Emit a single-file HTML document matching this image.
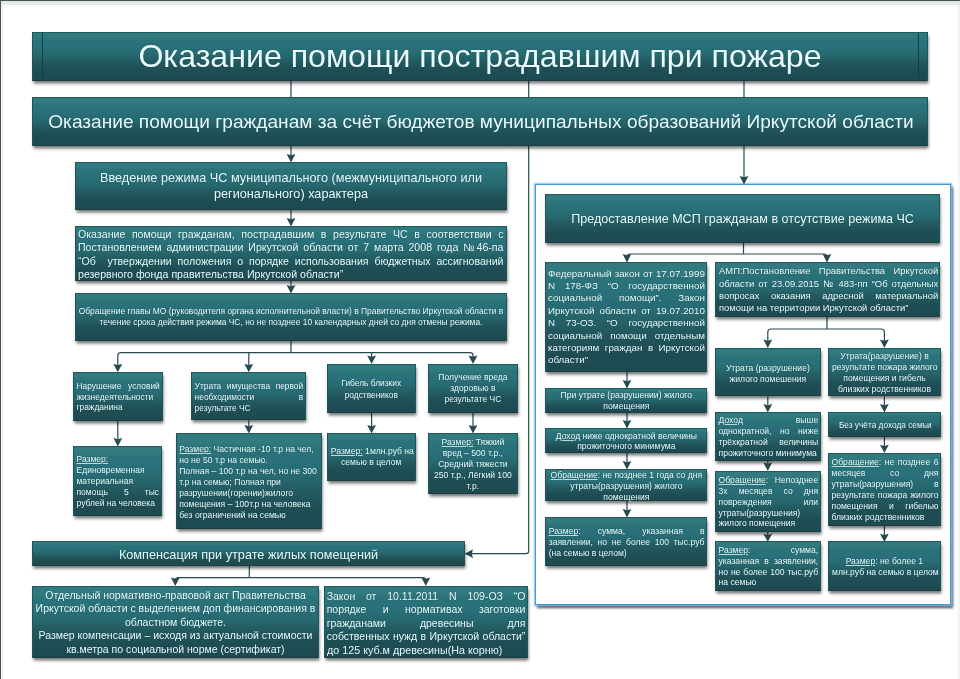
<!DOCTYPE html>
<html lang="ru"><head><meta charset="utf-8"><title>Оказание помощи пострадавшим при пожаре</title>
<style>
html,body{margin:0;padding:0;background:#fff}
#w{position:absolute;left:0;top:0;width:960px;height:679px;filter:blur(0.4px)}
body{width:960px;height:679px;position:relative;overflow:hidden;background:#fff;
 font-family:"Liberation Sans",sans-serif;color:#e9fdff}
.frame{position:absolute;left:0;top:0;width:960px;height:679px;box-sizing:border-box;
 border-left:1px solid #4b5855;border-top:1px solid #46534f;
 box-shadow:inset 0 6px 2px -2px #e1e7e4, inset 3px 0 2px -1px #eef2f0, inset -3px 0 2px -1px #f1f3f2}
.b{position:absolute;box-sizing:border-box;border:1px solid #1d555b;border-bottom-color:#193f44;border-top-color:#1f5a60;
 background:linear-gradient(180deg,#327a80 0%,#317a80 9%,#2b7379 15%,#29707a 30%,#276970 46%,#22595f 63%,#1e4e54 80%,#1d4a50 100%);
 box-shadow:0.5px 2.5px 3px rgba(0,0,0,.55)}
.t{position:absolute;transform-origin:0 0;white-space:nowrap;text-shadow:0 0 1px rgba(0,40,45,.5)}
.t div{display:block}
.c{text-align:center}
.l{text-align:left}
.j{text-align:justify;text-align-last:justify}
u{text-decoration-thickness:0.6px;text-underline-offset:1px;text-decoration-color:rgba(233,253,255,.8)}
.panel{position:absolute;left:534.8px;top:184px;width:416.7px;height:421.2px;box-sizing:border-box;
 border:1.6px solid #3f9bd9;background:#fff;box-shadow:0 0 1.5px 0.6px #86c3ec, 2.2px 2.8px 2.5px rgba(0,0,0,.7)}
svg{position:absolute;left:0;top:0}
svg path{fill:none;stroke:#264a4e;stroke-width:1.2}
svg polygon{fill:#264a4e;stroke:none}
.vl{position:absolute;top:0;bottom:0;width:1.4px;background:#0f4046}
</style></head><body>
<div class="frame"></div>
<div id="w">
<div class="panel"></div>
<svg width="960" height="679" viewBox="0 0 960 679"><path d="M291 81V158"/><polygon points="286.6,154 291,155.2 295.4,154 291,162.4"/><path d="M291 210V222"/><polygon points="286.6,218 291,219.2 295.4,218 291,226.4"/><path d="M291 281V289"/><polygon points="286.6,285 291,286.2 295.4,285 291,293.4"/><path d="M291 341V352.7"/><path d="M291 352.7H120.8Q117.8 352.7 117.8 355.7V367.9"/><polygon points="113.4,363.9 117.8,365.1 122.2,363.9 117.8,372.3"/><path d="M248.8 352.7V367.9"/><polygon points="244.4,363.9 248.8,365.1 253.2,363.9 248.8,372.3"/><path d="M371.6 352.7V359.5"/><polygon points="367.2,355.5 371.6,356.7 376.0,355.5 371.6,363.9"/><path d="M291 352.7H470Q473 352.7 473 355.7V359.5"/><polygon points="468.6,355.5 473,356.7 477.4,355.5 473,363.9"/><path d="M117.8 420.6V442"/><polygon points="113.4,438 117.8,439.2 122.2,438 117.8,446.4"/><path d="M248.8 420.5V429"/><polygon points="244.4,425 248.8,426.2 253.2,425 248.8,433.4"/><path d="M371.6 413V429"/><polygon points="367.2,425 371.6,426.2 376.0,425 371.6,433.4"/><path d="M473 413V429"/><polygon points="468.6,425 473,426.2 477.4,425 473,433.4"/><path d="M528.7 81V551Q528.7 553.7 526 553.7H470"/><polygon points="473,549.3 471.8,553.7 473,558.1 464.6,553.7"/><path d="M744 81V180"/><polygon points="739.6,176 744,177.2 748.4,176 744,184.4"/><path d="M249.3 566V577.7"/><path d="M249.3 577.7H178.3Q175.3 577.7 175.3 580.7V581.6"/><polygon points="170.9,577.6 175.3,578.8 179.7,577.6 175.3,586.0"/><path d="M249.3 577.7H422.8Q425.8 577.7 425.8 580.7V581.6"/><polygon points="421.4,577.6 425.8,578.8 430.2,577.6 425.8,586.0"/><path d="M743.5 242.5V254"/><path d="M743.5 254H630Q627 254 627 257V258"/><polygon points="622.6,254 627,255.2 631.4,254 627,262.4"/><path d="M743.5 254H824Q827 254 827 257V258"/><polygon points="822.6,254 827,255.2 831.4,254 827,262.4"/><path d="M627 372V384"/><polygon points="622.6,380 627,381.2 631.4,380 627,388.4"/><path d="M627 412.5V424"/><polygon points="622.6,420 627,421.2 631.4,420 627,428.4"/><path d="M627 453V465"/><polygon points="622.6,461 627,462.2 631.4,461 627,469.4"/><path d="M627 501V513"/><polygon points="622.6,509 627,510.2 631.4,509 627,517.4"/><path d="M827 316V329"/><path d="M827 329H770.8Q767.8 329 767.8 332V343.6"/><polygon points="763.4,339.6 767.8,340.8 772.2,339.6 767.8,348.0"/><path d="M827 329H881.4Q884.4 329 884.4 332V343.6"/><polygon points="880.0,339.6 884.4,340.8 888.8,339.6 884.4,348.0"/><path d="M767.8 396.4V408"/><polygon points="763.4,404 767.8,405.2 772.2,404 767.8,412.4"/><path d="M767.8 461V466.6"/><polygon points="763.4,462.6 767.8,463.8 772.2,462.6 767.8,471.0"/><path d="M767.8 532V537.7"/><polygon points="763.4,533.7 767.8,534.9 772.2,533.7 767.8,542.1"/><path d="M884.4 396.4V408"/><polygon points="880.0,404 884.4,405.2 888.8,404 884.4,412.4"/><path d="M884.4 436.6V448.7"/><polygon points="880.0,444.7 884.4,445.9 888.8,444.7 884.4,453.1"/><path d="M884.4 526V537.7"/><polygon points="880.0,533.7 884.4,534.9 888.8,533.7 884.4,542.1"/></svg>
<div class="b title" style="left:32px;top:32px;width:896.0px;height:49.0px">
<i class="vl" style="left:9px"></i><i class="vl" style="left:885px"></i>
<div class="t" style="left:9.0px;top:4.41px;width:872.5px;font-size:32px;line-height:38px;transform:scaleX(1.004)">
<div class="c">Оказание помощи пострадавшим при пожаре</div>
</div></div>
<div class="b " style="left:32px;top:97px;width:896.0px;height:49.0px">
<div class="t" style="left:5.5px;top:11.78px;width:883.1px;font-size:19.1px;line-height:24px;transform:scaleX(1.001)">
<div class="c">Оказание помощи гражданам за счёт бюджетов муниципальных образований Иркутской области</div>
</div></div>
<div class="b " style="left:75px;top:161.7px;width:432.0px;height:48.7px">
<div class="t" style="left:3.0px;top:7.02px;width:424.0px;font-size:12.7px;line-height:16.75px;transform:scaleX(1.0)">
<div class="c">Введение режима ЧС муниципального (межмуниципального или</div>
<div class="c">регионального) характера</div>
</div></div>
<div class="b " style="left:75px;top:225.8px;width:432.0px;height:55.2px">
<div class="t" style="left:2.0px;top:0.75px;width:425.5px;font-size:10.6px;line-height:13.55px;transform:scaleX(1.0)">
<div class="j">Оказание помощи гражданам, пострадавшим в результате ЧС в соответствии с</div>
<div class="j">Постановлением администрации Иркутской области от 7 марта 2008 года №46-па</div>
<div class="j">“Об&nbsp; утверждении положения о порядке использования бюджетных ассигнований</div>
<div class="l">резервного фонда правительства Иркутской области”</div>
</div></div>
<div class="b " style="left:75px;top:293px;width:432.0px;height:48.0px">
<div class="t" style="left:2.0px;top:11.95px;width:426.0px;font-size:8.45px;line-height:11.25px;transform:scaleX(1.0)">
<div class="c">Обращение главы МО (руководителя органа исполнительной власти) в Правительство Иркутской области в</div>
<div class="c">течение срока действия режима ЧС, но не позднее 10 календарных дней со дня отмены режима.</div>
</div></div>
<div class="b " style="left:73px;top:371.9px;width:89.5px;height:48.7px">
<div class="t" style="left:2.5px;top:7.74px;width:83.3px;font-size:8.4px;line-height:10.9px;transform:scaleX(1.0)">
<div class="j">Нарушение условий</div>
<div class="j">жизнедеятельности</div>
<div class="l">гражданина</div>
</div></div>
<div class="b " style="left:191.3px;top:371.8px;width:114.5px;height:48.6px">
<div class="t" style="left:2.3px;top:8.44px;width:108.6px;font-size:8.4px;line-height:10.9px;transform:scaleX(1.0)">
<div class="j">Утрата имущества первой</div>
<div class="j">необходимости в</div>
<div class="l">результате ЧС</div>
</div></div>
<div class="b " style="left:326.8px;top:363.6px;width:88.9px;height:49.1px">
<div class="t" style="left:3.0px;top:13.74px;width:80.9px;font-size:8.4px;line-height:11.3px;transform:scaleX(1.0)">
<div class="c">Гибель близких</div>
<div class="c">родствеников</div>
</div></div>
<div class="b " style="left:428.2px;top:363.6px;width:89.4px;height:49.1px">
<div class="t" style="left:3.0px;top:7.75px;width:81.4px;font-size:8.5px;line-height:10.9px;transform:scaleX(1.0)">
<div class="c">Получение вреда</div>
<div class="c">здоровью в</div>
<div class="c">результате ЧС</div>
</div></div>
<div class="b " style="left:73px;top:446px;width:89.0px;height:70.0px">
<div class="t" style="left:2.5px;top:6.95px;width:82.5px;font-size:8.5px;line-height:11px;transform:scaleX(1.0)">
<div class="l"><u>Размер:</u></div>
<div class="l">Единовременная</div>
<div class="l">материальная</div>
<div class="j">помощь 5 тыс</div>
<div class="l">рублей на человека</div>
</div></div>
<div class="b " style="left:175.7px;top:432.8px;width:146.1px;height:96.7px">
<div class="t" style="left:2.5px;top:10.05px;width:139.6px;font-size:8.6px;line-height:10.95px;transform:scaleX(1.0)">
<div class="l"><u>Размер:</u> Частичная -10 т.р на чел,</div>
<div class="l">но не 50 т.р на семью.</div>
<div class="l">Полная – 100 т.р на чел, но не 300</div>
<div class="l">т.р на семью; Полная при</div>
<div class="l">разрушении(горении)жилого</div>
<div class="l">помещения – 100т.р на человека</div>
<div class="l">без ограничений на семью</div>
</div></div>
<div class="b " style="left:326.8px;top:432.6px;width:88.9px;height:48.3px">
<div class="t" style="left:3.0px;top:12.67px;width:80.9px;font-size:8.6px;line-height:10.5px;transform:scaleX(1.0)">
<div class="c"><u>Размер:</u> 1млн.руб на</div>
<div class="c">семью в целом</div>
</div></div>
<div class="b " style="left:428.2px;top:432.5px;width:89.4px;height:61.3px">
<div class="t" style="left:3.0px;top:3.42px;width:81.4px;font-size:8.6px;line-height:11.0px;transform:scaleX(1.0)">
<div class="c"><u>Размер:</u> Тяжкий</div>
<div class="c">вред – 500 т.р.,</div>
<div class="c">Средний тяжести</div>
<div class="c">250 т.р., Лёгкий 100</div>
<div class="c">т.р.</div>
</div></div>
<div class="b " style="left:32px;top:541.2px;width:433.0px;height:25.1px">
<div class="t" style="left:3.0px;top:4.60px;width:425.0px;font-size:12.7px;line-height:16px;transform:scaleX(1.0)">
<div class="c">Компенсация при утрате жилых помещений</div>
</div></div>
<div class="b " style="left:32px;top:586px;width:287.0px;height:72.4px">
<div class="t" style="left:1.0px;top:1.79px;width:283.0px;font-size:10.5px;line-height:13.55px;transform:scaleX(1.0)">
<div class="c">Отдельный нормативно-правовой акт Правительства</div>
<div class="c">Иркутской области с выделением доп финансирования в</div>
<div class="c">областном бюджете.</div>
<div class="c">Размер компенсации – исходя из актуальной стоимости</div>
<div class="c">кв.метра по социальной норме (сертификат)</div>
</div></div>
<div class="b " style="left:323.7px;top:586px;width:204.7px;height:72.4px">
<div class="t" style="left:2.0px;top:2.51px;width:198.7px;font-size:10.5px;line-height:13.5px;transform:scaleX(1.0)">
<div class="j">Закон от 10.11.2011 N 109-ОЗ “О</div>
<div class="j">порядке и нормативах заготовки</div>
<div class="j">гражданами древесины для</div>
<div class="j">собственных нужд в Иркутской области”</div>
<div class="l"><span style="display:inline-block;transform:scaleX(1.023);transform-origin:0 0">до 125 куб.м древесины(На корню)</span></div>
</div></div>
<div class="b " style="left:545.2px;top:194px;width:394.8px;height:48.5px">
<div class="t" style="left:3.0px;top:15.85px;width:386.8px;font-size:12.55px;line-height:16px;transform:scaleX(1.0)">
<div class="c">Предоставление МСП гражданам в отсутствие режима ЧС</div>
</div></div>
<div class="b " style="left:545.2px;top:262px;width:162.3px;height:110.0px">
<div class="t" style="left:2.3px;top:4.54px;width:150.2px;font-size:9.4px;line-height:12.4px;transform:scaleX(1.045)">
<div class="j">Федеральный закон от 17.07.1999</div>
<div class="j">N 178-ФЗ “О государственной</div>
<div class="j">социальной помощи”. Закон</div>
<div class="j">Иркутской области от 19.07.2010</div>
<div class="j">N 73-ОЗ. “О государственной</div>
<div class="j">социальной помощи отдельным</div>
<div class="j">категориям граждан в Иркутской</div>
<div class="l">области”</div>
</div></div>
<div class="b " style="left:715px;top:262px;width:225.0px;height:54.7px">
<div class="t" style="left:2.5px;top:2.18px;width:218.1px;font-size:9.4px;line-height:12.33px;transform:scaleX(1.005)">
<div class="j">АМП:Постановление Правительства Иркутской</div>
<div class="j">области от 23.09.2015 № 483-пп “Об отдельных</div>
<div class="j">вопросах оказания адресной материальной</div>
<div class="l">помощи на территории Иркутской области”</div>
</div></div>
<div class="b " style="left:545.2px;top:388px;width:162.3px;height:24.5px">
<div class="t" style="left:3.0px;top:0.80px;width:154.3px;font-size:8.6px;line-height:11.25px;transform:scaleX(1.0)">
<div class="c">При утрате (разрушении) жилого</div>
<div class="c">помещения</div>
</div></div>
<div class="b " style="left:545.2px;top:428px;width:162.3px;height:25.0px">
<div class="t" style="left:3.0px;top:1.52px;width:154.3px;font-size:8.6px;line-height:10.5px;transform:scaleX(1.0)">
<div class="c"><u>Доход</u> ниже однократной величины</div>
<div class="c">прожиточного минимума</div>
</div></div>
<div class="b " style="left:545.2px;top:469px;width:162.3px;height:32.0px">
<div class="t" style="left:3.0px;top:-0.13px;width:154.3px;font-size:8.6px;line-height:10.9px;transform:scaleX(1.0)">
<div class="c"><u>Обращение</u>: не позднее 1 года со дня</div>
<div class="c">утраты(разрушения) жилого</div>
<div class="c">помещения</div>
</div></div>
<div class="b " style="left:545.2px;top:517px;width:162.3px;height:49.0px">
<div class="t" style="left:2.5px;top:8.32px;width:155.8px;font-size:8.6px;line-height:11.0px;transform:scaleX(1.0)">
<div class="j"><u>Размер</u>: сумма, указанная в</div>
<div class="j">заявлении, но не более 100 тыс.руб</div>
<div class="l">(на семью в целом)</div>
</div></div>
<div class="b " style="left:715px;top:347.8px;width:105.7px;height:48.4px">
<div class="t" style="left:3.0px;top:13.77px;width:97.7px;font-size:8.6px;line-height:11.1px;transform:scaleX(1.0)">
<div class="c">Утрата (разрушение)</div>
<div class="c">жилого помешения</div>
</div></div>
<div class="b " style="left:828px;top:347.8px;width:113.0px;height:48.4px">
<div class="t" style="left:3.0px;top:2.00px;width:105.0px;font-size:8.6px;line-height:11.05px;transform:scaleX(1.0)">
<div class="c">Утрата(разрушение) в</div>
<div class="c">результате пожара жилого</div>
<div class="c">помещения и гибель</div>
<div class="c">близких родственников</div>
</div></div>
<div class="b " style="left:715px;top:412px;width:105.7px;height:49.0px">
<div class="t" style="left:2.5px;top:1.97px;width:99.7px;font-size:8.6px;line-height:11.1px;transform:scaleX(1.0)">
<div class="j"><u>Доход</u> выше</div>
<div class="j">однократной, но ниже</div>
<div class="j">трёхкратной величины</div>
<div class="l">прожиточного минимума</div>
</div></div>
<div class="b " style="left:828px;top:412px;width:113.0px;height:24.6px">
<div class="t" style="left:4.0px;top:6.72px;width:108.3px;font-size:8.6px;line-height:11px;transform:scaleX(0.965)">
<div class="c">Без учёта дохода семьи</div>
</div></div>
<div class="b " style="left:715px;top:470.6px;width:105.7px;height:61.4px">
<div class="t" style="left:2.5px;top:3.40px;width:99.7px;font-size:8.6px;line-height:10.85px;transform:scaleX(1.0)">
<div class="j"><u>Обращение</u>: Непозднее</div>
<div class="j">3х месяцев со дня</div>
<div class="j">повреждения или</div>
<div class="l">утраты(разрушения)</div>
<div class="l">жилого помещения</div>
</div></div>
<div class="b " style="left:828px;top:452.7px;width:113.0px;height:73.3px">
<div class="t" style="left:2.5px;top:3.70px;width:107.0px;font-size:8.6px;line-height:10.85px;transform:scaleX(1.0)">
<div class="j"><u>Обращение</u>: не позднее 6</div>
<div class="j">месяцев со дня</div>
<div class="j">утраты(разрушения) в</div>
<div class="j">результате пожара жилого</div>
<div class="j">помещения и гибелью</div>
<div class="l">близких родственников</div>
</div></div>
<div class="b " style="left:715px;top:541.4px;width:105.7px;height:49.4px">
<div class="t" style="left:2.5px;top:2.52px;width:99.7px;font-size:8.6px;line-height:10.8px;transform:scaleX(1.0)">
<div class="j"><u>Размер</u>: сумма,</div>
<div class="j">указанная в заявлении,</div>
<div class="j">но не более 100 тыс.руб</div>
<div class="l">на семью</div>
</div></div>
<div class="b " style="left:828px;top:541.4px;width:112.8px;height:49.4px">
<div class="t" style="left:3.0px;top:13.42px;width:104.8px;font-size:8.6px;line-height:10.8px;transform:scaleX(1.0)">
<div class="c"><u>Размер</u>: не более 1</div>
<div class="c">млн.руб на семью в целом</div>
</div></div>
</div>
</body></html>
